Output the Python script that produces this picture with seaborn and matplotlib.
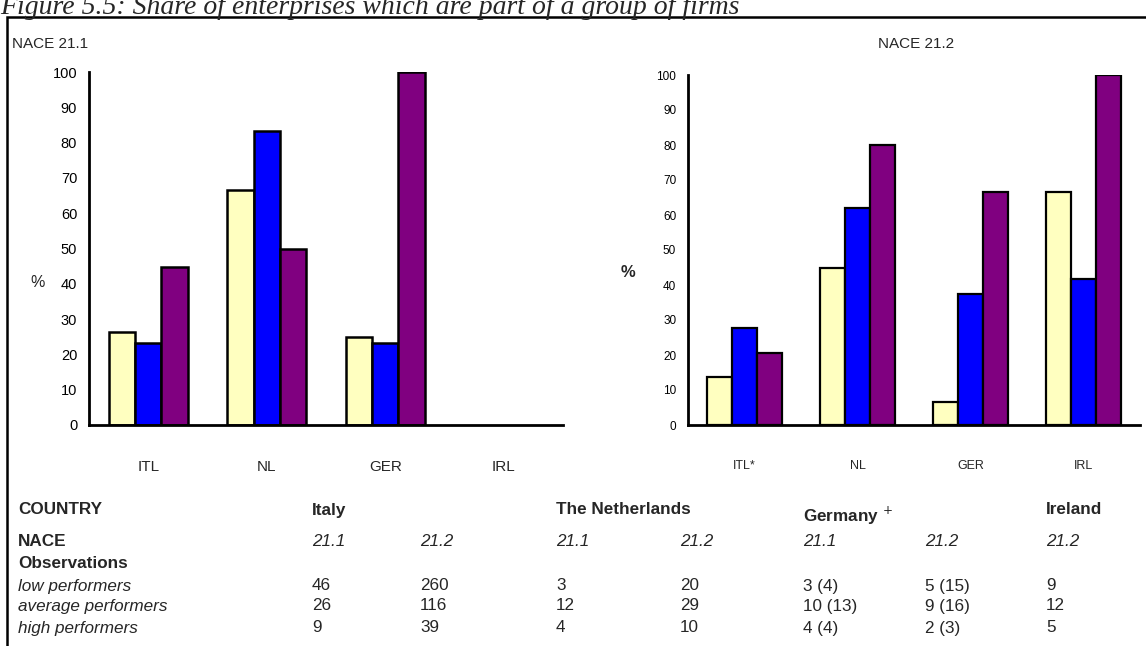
import numpy as np
import pandas as pd
import seaborn as sns
import matplotlib.pyplot as plt
from matplotlib.patches import Rectangle

#########################
# Data
#########################

groups = ['low performers', 'average performers', 'high performers']
colors = ['#FFFFC0', '#0000FF', '#800080']

countries_211 = ['ITL', 'NL', 'GER', 'IRL']
low_211 = [26.3, 66.7, 25.0, np.nan]
avg_211 = [23.1, 83.3, 23.1, np.nan]
high_211 = [44.9, 50.0, 100.0, np.nan]

countries_212 = ['ITL*', 'NL', 'GER', 'IRL']
low_212 = [13.6, 45.0, 6.7, 66.7]
avg_212 = [27.6, 62.1, 37.5, 41.7]
high_212 = [20.5, 80.0, 66.7, 100.0]

# observation table
table_cols = ['Italy', '', 'The Netherlands', '', 'Germany', '', 'Ireland']
table_nace = ['21.1', '21.2', '21.1', '21.2', '21.1', '21.2', '21.2']
obs_low = ['46', '260', '3', '20', '3 (4)', '5 (15)', '9']
obs_avg = ['26', '116', '12', '29', '10 (13)', '9 (16)', '12']
obs_high = ['9', '39', '4', '10', '4 (4)', '2 (3)', '5']

title = 'Figure 5.5: Share of enterprises which are part of a group of firms'


#########################
# Functions
#########################

def to_long(countries, low, avg, high):
    rows = []
    for vals, g in zip([low, avg, high], groups):
        for c, v in zip(countries, vals):
            rows.append({'Country': c, 'Group': g, 'Share': v})
    return pd.DataFrame(rows)


def draw_panel(ax, df, order, fs, xfs, lw):
    sns.barplot(data=df, x='Country', y='Share', hue='Group', order=order,
                hue_order=groups, palette=colors, width=0.67, ax=ax,
                edgecolor='black', linewidth=lw, saturation=1, legend=False,
                errorbar=None)
    ax.set_xlim(-0.5, 3.5)
    ax.set_ylim(0, 100)
    ax.set_yticks(range(0, 101, 10))
    ax.set_xlabel('')
    ax.set_ylabel('')
    for s in ['top', 'right']:
        ax.spines[s].set_visible(False)
    for s in ['left', 'bottom']:
        ax.spines[s].set_color('black')
        ax.spines[s].set_linewidth(2)
    ax.spines['bottom'].set_zorder(5)
    ax.tick_params(axis='y', direction='inout', length=9, width=2,
                   labelsize=fs, pad=4, colors='black')
    ax.tick_params(axis='x', which='major', length=0, labelsize=xfs, pad=25)
    ax.set_xticks(np.arange(-0.5, 4, 1), minor=True)
    ax.tick_params(axis='x', which='minor', direction='inout', length=9, width=2)
    ax.grid(False)
    ax.set_facecolor('none')


#########################
# Plot
#########################

sns.set_style('white')
plt.rcParams['font.family'] = ['Liberation Sans', 'DejaVu Sans']

fig = plt.figure(figsize=(11.46, 6.46), dpi=100)

# frame around the figure body
fig.patches.append(Rectangle((7 / 1146, -0.1), 1.2, 1 - 17 / 646 + 0.1,
                             transform=fig.transFigure, fill=False,
                             edgecolor='black', linewidth=1.8))

# caption sits partly above the picture, as in the scanned page
fig.text(0.0, 1 - 14 / 646, title, family='Liberation Serif', style='italic',
         fontsize=20, va='baseline', ha='left')

ax1 = fig.add_axes([89 / 1146, 1 - 425 / 646, 474 / 1146, 353 / 646])
draw_panel(ax1, to_long(countries_211, low_211, avg_211, high_211),
           countries_211, 10.5, 11, 1.8)
ax1.set_ylabel('%', rotation=0, fontsize=11.5, va='center', ha='center')
ax1.yaxis.set_label_coords(-0.108, 0.405)
fig.text(12 / 1146, 1 - 44 / 646, 'NACE 21.1', fontsize=11, va='center')

ax2 = fig.add_axes([688 / 1146, 1 - 425 / 646, 452 / 1146, 350 / 646])
draw_panel(ax2, to_long(countries_212, low_212, avg_212, high_212),
           countries_212, 8.5, 9, 1.6)
ax2.set_ylabel('%', rotation=0, fontsize=12, fontweight='bold',
               va='center', ha='center')
ax2.yaxis.set_label_coords(-0.133, 0.437)
fig.text(916 / 1146, 1 - 44 / 646, 'NACE 21.2', fontsize=11,
         va='center', ha='center')

# observation table below the charts
tfont = ['Liberation Sans Narrow', 'Liberation Sans', 'DejaVu Sans']
col_x = [312, 420, 556, 680, 803, 925, 1046]
row_y = {'country': 510, 'nace': 542, 'obs': 563,
         'low': 586, 'avg': 606, 'high': 628}

def put(x, y, s, **kw):
    fig.text(x / 1146, 1 - y / 646, s, va='center', ha='left',
             family=tfont, fontsize=12.3, **kw)

put(18, row_y['country'], 'COUNTRY', fontweight='bold')
put(18, row_y['nace'], 'NACE', fontweight='bold')
put(18, row_y['obs'], 'Observations', fontweight='bold')
put(18, row_y['low'], 'low performers', style='italic')
put(18, row_y['avg'], 'average performers', style='italic')
put(18, row_y['high'], 'high performers', style='italic')

for x, name, nace, a, b, c in zip(col_x, table_cols, table_nace,
                                  obs_low, obs_avg, obs_high):
    if name == 'Germany':
        put(x, row_y['country'] + 6, 'Germany $^{+}$', fontweight='bold')
    elif name:
        put(x, row_y['country'], name, fontweight='bold')
    put(x, row_y['nace'], nace, style='italic')
    put(x, row_y['low'], a)
    put(x, row_y['avg'], b)
    put(x, row_y['high'], c)

plt.savefig('out.png', dpi=100)
